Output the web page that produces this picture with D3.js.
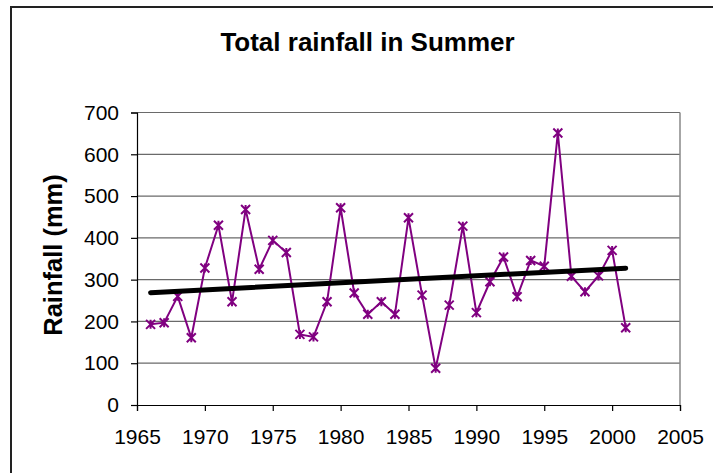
<!DOCTYPE html>
<html>
<head>
<meta charset="utf-8">
<script src="https://cdn.jsdelivr.net/npm/d3@7"></script>
<style>
  body { margin: 0; background: #fff; }
  svg { display: block; font-family: "Liberation Sans", Arial, sans-serif; }
</style>
</head>
<body>
<div id="chart"></div>
<script>
// summer rainfall totals
var years = [1966, 1967, 1968, 1969, 1970, 1971, 1972, 1973, 1974, 1975, 1976, 1977,
  1978, 1979, 1980, 1981, 1982, 1983, 1984, 1985, 1986, 1987, 1988, 1989,
  1990, 1991, 1992, 1993, 1994, 1995, 1996, 1997, 1998, 1999, 2000, 2001];
var rainfall = [193, 197, 260, 161, 328, 430, 247, 468, 325, 394, 365, 169,
  163, 247, 472, 268, 217, 247, 217, 448, 263, 88, 239, 428,
  221, 295, 354, 259, 346, 332, 651, 308, 271, 309, 370, 185];
var xTicks = [1965, 1970, 1975, 1980, 1985, 1990, 1995, 2000, 2005];
var yTicks = [0, 100, 200, 300, 400, 500, 600, 700];

var width = 713,
  height = 473;

var svg = d3.select("#chart").append("svg")
  .attr("width", width)
  .attr("height", height);

// outer chart frame (runs off the right and bottom)
svg.append("rect")
  .attr("x", 11).attr("y", 7)
  .attr("width", 800).attr("height", 600)
  .attr("fill", "none")
  .attr("stroke", "#222")
  .attr("stroke-width", 2);

var xScale = d3.scaleLinear().domain([1965, 2005]).range([137, 680]);
var yScale = d3.scaleLinear().domain([0, 700]).range([405, 112.5]);

// gridlines
svg.append("g").selectAll("line")
  .data(yTicks.filter(d => d > 0))
  .enter().append("line")
  .attr("x1", xScale(1965)).attr("x2", xScale(2005))
  .attr("y1", d => yScale(d)).attr("y2", d => yScale(d))
  .attr("stroke", "#6a6a6a")
  .attr("stroke-width", 1.2);

// right edge of plot area
svg.append("line")
  .attr("x1", xScale(2005)).attr("x2", xScale(2005))
  .attr("y1", yScale(700)).attr("y2", yScale(0))
  .attr("stroke", "#888")
  .attr("stroke-width", 1.5);

// axes
var xAxis = d3.axisBottom(xScale).tickValues(xTicks).tickFormat(d3.format("d")).tickSizeOuter(0).tickSize(6).tickPadding(18);
var yAxis = d3.axisLeft(yScale).tickValues(yTicks).tickSizeOuter(0).tickSize(6).tickPadding(12);

var gx = svg.append("g").attr("transform", "translate(0," + yScale(0) + ")").call(xAxis);
var gy = svg.append("g").attr("transform", "translate(" + xScale(1965) + ",0)").call(yAxis);

[gx, gy].forEach(function(g) {
  g.selectAll("path, line").attr("stroke", "#000").attr("stroke-width", 1.2);
  g.selectAll("text")
    .attr("fill", "#000")
    .style("font-size", "21px")
    .style("font-family", "'Liberation Sans', Arial, sans-serif");
});

// rainfall series
var pts = years.map((y, i) => [y, rainfall[i]]);

var line = d3.line()
  .x(d => xScale(d[0]))
  .y(d => yScale(d[1]));

svg.append("path")
  .datum(pts)
  .attr("d", line)
  .attr("fill", "none")
  .attr("stroke", "#800080")
  .attr("stroke-width", 2);

// star markers (x with a vertical bar)
var s = 4.5;
var star = "M" + (-s) + "," + (-s) + "L" + s + "," + s +
  "M" + (-s) + "," + s + "L" + s + "," + (-s) +
  "M0," + (-s) + "L0," + s;

svg.append("g").selectAll("path")
  .data(pts)
  .enter().append("path")
  .attr("transform", d => "translate(" + xScale(d[0]) + "," + yScale(d[1]) + ")")
  .attr("d", star)
  .attr("fill", "none")
  .attr("stroke", "#800080")
  .attr("stroke-width", 2);

// linear trend from least squares fit
var mx = d3.mean(years), my = d3.mean(rainfall);
var sxy = d3.sum(years, (y, i) => (y - mx) * (rainfall[i] - my));
var sxx = d3.sum(years, y => (y - mx) * (y - mx));
var slope = sxy / sxx, icpt = my - slope * mx;
var trend = [years[0], years[years.length - 1]].map(y => [y, icpt + slope * y]);

svg.append("path")
  .datum(trend)
  .attr("d", line)
  .attr("fill", "none")
  .attr("stroke", "#000")
  .attr("stroke-width", 5)
  .attr("stroke-linecap", "round");

// titles
svg.append("text")
  .attr("x", 367.5).attr("y", 51)
  .attr("text-anchor", "middle")
  .style("font-size", "26px")
  .style("font-weight", "bold")
  .text("Total rainfall in Summer");

svg.append("text")
  .attr("transform", "translate(62,255) rotate(-90)")
  .attr("text-anchor", "middle")
  .style("font-size", "25.5px")
  .style("font-weight", "bold")
  .text("Rainfall (mm)");
</script>
</body>
</html>
